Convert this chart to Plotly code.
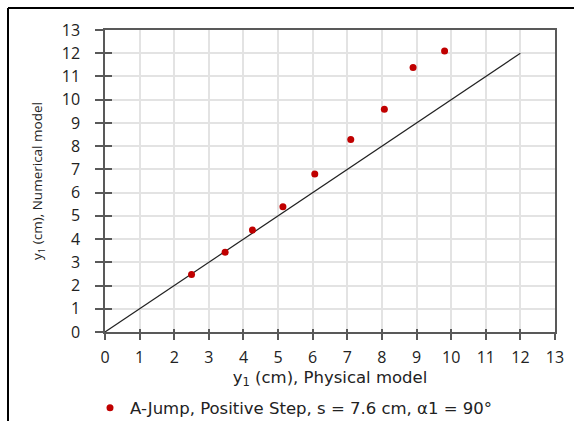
import plotly.graph_objects as go

phys = [2.50, 3.47, 4.26, 5.14, 6.06, 7.10, 8.07, 8.90, 9.81]
numer = [2.48, 3.43, 4.39, 5.39, 6.80, 8.29, 9.59, 11.39, 12.10]
line_x = [0, 12]
line_y = [0, 12]
ticks = list(range(0, 14))
series_name = "A-Jump, Positive Step, s = 7.6 cm, α1 = 90°"

FONT = "Open Sans"
WIDE = "DejaVu Sans"
fig = go.Figure()
fig.add_trace(go.Scatter(x=line_x, y=line_y, mode="lines",
                         line=dict(color="#222222", width=1.2),
                         showlegend=False, hoverinfo="skip"))
fig.add_trace(go.Scatter(x=phys, y=numer, mode="markers", name=series_name,
                         marker=dict(color="#c00000", size=7)))
fig.add_trace(go.Scatter(x=[0], y=[0], xaxis="x2", yaxis="y2", mode="markers",
                         marker=dict(opacity=0), showlegend=False, hoverinfo="skip"))

axis_common = dict(range=[0, 13], tickmode="array", tickvals=ticks,
                   ticktext=[str(t) for t in ticks],
                   showline=True, linecolor="#595959", linewidth=1.5,
                   gridcolor="#e3e3e3", gridwidth=1.5, zeroline=False,
                   tickfont=dict(family=FONT, size=16, color="#222"),
                   ticks="outside", tickcolor="#595959", tickwidth=1.5,
                   mirror=True, automargin=False)

fig.update_layout(
    width=574, height=421,
    margin=dict(l=105, r=19, t=30, b=89),
    paper_bgcolor="white", plot_bgcolor="white",
    font=dict(family=FONT, size=15, color="#222"),
    xaxis=dict(**axis_common, ticklen=6, ticklabelstandoff=4,
               title=dict(text="y<sub>1</sub> (cm), Physical model",
                          font=dict(family=WIDE, size=16.5), standoff=3)),
    yaxis=dict(**axis_common, ticklen=8, ticklabelstandoff=12,
               title=dict(text="y<sub>1</sub> (cm), Numerical model",
                          font=dict(family=FONT, size=13.5), standoff=16)),
    xaxis2=dict(overlaying="x", range=[0, 13], tickvals=ticks, ticks="inside",
                ticklen=3, tickwidth=1.5, tickcolor="#595959", showticklabels=False,
                showgrid=False, zeroline=False, side="bottom", automargin=False),
    yaxis2=dict(overlaying="y", range=[0, 13], tickvals=ticks, ticks="inside",
                ticklen=7, tickwidth=1.5, tickcolor="#595959", showticklabels=False,
                showgrid=False, zeroline=False, side="left", automargin=False),
    legend=dict(orientation="h", x=(90 - 105) / 450, xanchor="left",
                yref="container", y=(421 - 408) / 421, yanchor="middle",
                font=dict(family=WIDE, size=16.5), itemwidth=30,
                bgcolor="rgba(0,0,0,0)"),
    shapes=[
        dict(type="line", xref="paper", yref="paper",
             x0=(8 - 105) / 450, x1=(574 - 105) / 450,
             y0=(332 - 8) / 302, y1=(332 - 8) / 302,
             line=dict(color="black", width=2), layer="below"),
        dict(type="line", xref="paper", yref="paper",
             x0=(8 - 105) / 450, x1=(8 - 105) / 450,
             y0=(332 - 8) / 302, y1=(332 - 421) / 302,
             line=dict(color="black", width=2), layer="below"),
    ],
)
fig.write_html("out.html",
               post_script="document.body.style.margin='0';"
                           "document.body.style.overflow='hidden';")
